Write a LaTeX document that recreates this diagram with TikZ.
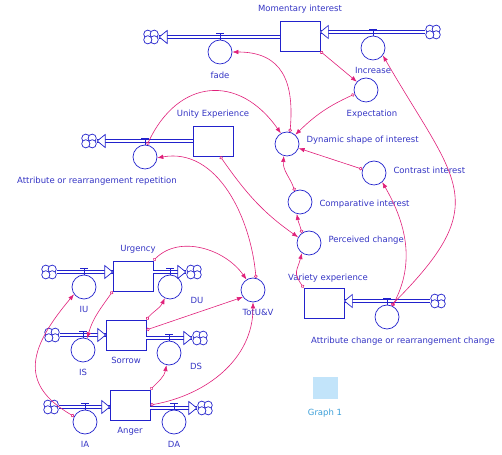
\documentclass[tikz,border=0pt]{standalone}
\usepackage{fontspec}
\setmainfont{DejaVu Sans}
\usetikzlibrary{arrows.meta}
\definecolor{FlowBlue}{HTML}{2222CC}
\definecolor{LabelBlue}{HTML}{3434C4}
\definecolor{LinkPink}{HTML}{E0207A}
\definecolor{PadBlue}{HTML}{C2E4FA}
\definecolor{PadText}{HTML}{3C9FD8}

\begin{document}
\begin{tikzpicture}[x=1pt,y=1pt,font=\fontsize{8.5}{10}\selectfont,
  stock/.style={draw=FlowBlue,line width=0.7pt,minimum width=40pt,minimum height=30pt,inner sep=0pt},
  conv/.style={draw=FlowBlue,line width=0.7pt,circle,minimum size=24pt,inner sep=0pt},
  cloudy/.style={minimum width=16pt,minimum height=14pt,inner sep=0pt},
  pipe/.style={draw=FlowBlue,double=white,double distance=2pt,line width=0.7pt},
  link/.style={LinkPink,line width=0.6pt,{Circle[open,length=3.5pt,width=3.5pt]}-{Latex[length=6pt,width=4.5pt]}},
  every label/.style={text=LabelBlue,inner sep=1pt},
  label distance=6pt,
  pipetip/.pic={\draw[FlowBlue,fill=white,line width=0.7pt] (0,0) -- (-8,6.5) -- (-8,-6.5) -- cycle;}]
  \useasboundingbox (0,0) rectangle (502,454);
  % stocks
  \node[stock,label=above:{Momentary interest}] (mi) at (300,418) {};
  \node[stock,label=above:{Unity Experience}] (ue) at (213,313) {};
  \node[stock,label={[xshift=4pt,yshift=-2pt]above:{Variety experience}}] (ve) at (324,151) {};
  \node[stock,label={[xshift=5pt]above:Urgency}] (urg) at (133,178) {};
  \node[stock,label=below:Sorrow] (sor) at (126,119) {};
  \node[stock,label=below:Anger] (ang) at (130,49) {};
  % flows and converters
  \node[conv,label=below:fade] (fade) at (220,402) {};
  \node[conv,label=below:Increase] (incr) at (373,406) {};
  \node[conv,label={[xshift=6pt]below:Expectation}] (expc) at (366,364) {};
  \node[conv,label={[yshift=4pt]right:Dynamic shape of interest}] (dsi) at (287,310) {};
  \node[conv,label={[yshift=3pt]right:Contrast interest}] (ci) at (374,281) {};
  \node[conv,label={[yshift=-2pt]right:Comparative interest}] (cmp) at (300,252) {};
  \node[conv,label={[yshift=3pt]right:Perceived change}] (pc) at (309,211) {};
  \node[conv,label={[xshift=-48pt]below:Attribute or rearrangement repetition}] (arr) at (145,297) {};
  \node[conv,label={[xshift=5pt]below:TotU\&V}] (tot) at (253,164) {};
  \node[conv,label={[xshift=16pt]below:Attribute change or rearrangement change}] (acr) at (387,137) {};
  \node[conv,label=below:IU] (iu) at (84,167) {};
  \node[conv,label={[xshift=27pt,yshift=9pt]below:DU}] (du) at (170,167) {};
  \node[conv,label=below:IS] (is) at (83,104) {};
  \node[conv,label={[xshift=27pt,yshift=9pt]below:DS}] (ds) at (169,101) {};
  \node[conv,label=below:IA] (ia) at (85,32) {};
  \node[conv,label=below:DA] (da) at (174,32) {};
  % clouds
  \node[cloudy] (cfade) at (151,417) {};
  \node[cloudy] (cincr) at (433,422) {};
  \node[cloudy] (carr) at (89,313) {};
  \node[cloudy] (cacr) at (438,153) {};
  \node[cloudy] (ciu) at (49,182) {};
  \node[cloudy] (cdu) at (194,182) {};
  \node[cloudy] (cis) at (52,119) {};
  \node[cloudy] (cds) at (200,116) {};
  \node[cloudy] (cia) at (51,47) {};
  \node[cloudy] (cda) at (205,46) {};
  \foreach \c in {cfade,cincr,carr,cacr,ciu,cdu,cis,cds,cia,cda}
    \foreach \dx/\dy in {-3.2/2.8,3.2/2.8,3.2/-2.8,-3.2/-2.8}
      \draw[FlowBlue,fill=white,line width=0.7pt] ([shift={(\dx,\dy)}]\c.center) circle (4.1);
  % pipes
  \draw[pipe] (mi.west |- cfade) -- (cfade.east);
  \pic[rotate=180] at (cfade.east) {pipetip};
  \draw[pipe] (cincr.west) -- (mi.east |- cincr);
  \pic[rotate=180] at (mi.east |- cincr) {pipetip};
  \draw[pipe] (ue.west |- carr) -- (carr.east);
  \pic[rotate=180] at (carr.east) {pipetip};
  \draw[pipe] (cacr.west) -- (ve.east |- cacr);
  \pic[rotate=180] at (ve.east |- cacr) {pipetip};
  \draw[pipe] (ciu.east) -- (urg.west |- ciu);
  \pic at (urg.west |- ciu) {pipetip};
  \draw[pipe] (urg.east |- cdu) -- (cdu.west);
  \pic at (cdu.west) {pipetip};
  \draw[pipe] (cis.east) -- (sor.west |- cis);
  \pic at (sor.west |- cis) {pipetip};
  \draw[pipe] (sor.east |- cds) -- (cds.west);
  \pic at (cds.west) {pipetip};
  \draw[pipe] (cia.east) -- (ang.west |- cia);
  \pic at (ang.west |- cia) {pipetip};
  \draw[pipe] (ang.east |- cda) -- (cda.west);
  \pic at (cda.west) {pipetip};
  \foreach \v in {fade,incr,arr,acr,iu,du,is,ds,ia,da}
    \draw[FlowBlue,line width=0.7pt] (\v.north) -- ++(0,6) ++(-4,0) -- ++(8,0);
  % connectors
  \draw[link] (mi.south east) -- (expc.138);
  \draw[link] (expc.200) to[bend right=10] (dsi.48);
  \draw[link] (dsi.76) to[out=85,in=0,looseness=1.3] (fade.east);
  \draw[link] (arr.80) to[out=65,in=125,looseness=1.4] (dsi.120);
  \draw[link] (ci.162) -- (dsi.-20);
  \draw[link] (cmp.115) to[out=110,in=-95] (dsi.255);
  \draw[link] (pc.125) to[out=105,in=-80] (cmp.255);
  \draw[link] (ue.-65) to[out=-55,in=145] (pc.152);
  \draw[link] (ve.north west) to[out=125,in=-105,looseness=1.4] (pc.235);
  \draw[link] (acr.64) to[out=62,in=-60] (ci.-48);
  \draw[link] (acr.70) to[out=45,in=-60,looseness=1.5] (incr.-37);
  \draw[link] (tot.76) to[out=95,in=10] (arr.-4);
  \draw[link] (urg.north east) to[out=45,in=125] (tot.122);
  \draw[link] (sor.14) -- (tot.215);
  \draw[link] (sor.north east) to[out=50,in=-115] (du.245);
  \draw[link] (urg.south west) to[out=-125,in=75] (is.70);
  \draw[link] (ang.north east) to[out=45,in=-100] (ds.258);
  \draw[link] (ang.east) to[out=10,in=-90] (tot.south);
  \draw[link] (ia.153) to[out=150,in=-130,looseness=1.4] (iu.216);
  % graph pad
  \node[fill=PadBlue,minimum width=25pt,minimum height=22pt,inner sep=0pt,
    label={[text=PadText,label distance=9pt]below:Graph 1}] (graph) at (325,66) {};
\end{tikzpicture}
\end{document}
